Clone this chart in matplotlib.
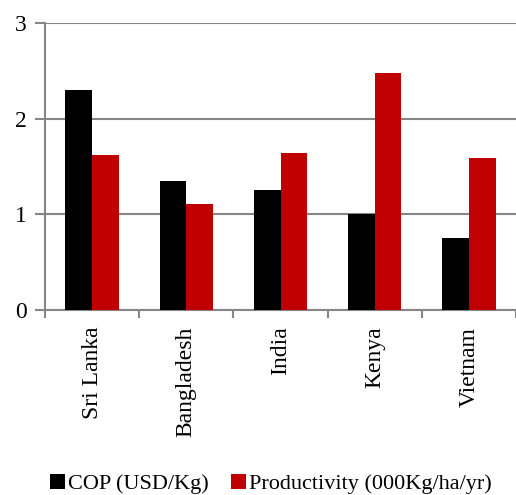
#!/usr/bin/env python3
"""Cost of production vs productivity by country - grouped bars."""
import matplotlib
matplotlib.use("Agg")
import matplotlib.pyplot as plt
import numpy as np

countries = ["Sri Lanka", "Bangladesh", "India", "Kenya", "Vietnam"]
cop = [2.30, 1.35, 1.25, 1.00, 0.75]
productivity = [1.62, 1.11, 1.64, 2.48, 1.59]
series_labels = ["COP (USD/Kg)", "Productivity (000Kg/ha/yr)"]
yticks = [0, 1, 2, 3]

plt.rcParams["font.family"] = ["Liberation Serif", "DejaVu Serif"]
grey = "#868686"

fig = plt.figure(figsize=(5.16, 4.95), dpi=100)
ax = fig.add_axes([45 / 516, 1 - 310 / 495, 471 / 516, 287 / 495])

x = np.arange(len(countries))
w = 0.283
ax.bar(x - w / 2, cop, w, color="black", label=series_labels[0], zorder=3)
ax.bar(x + w / 2, productivity, w, color="#c00000", label=series_labels[1], zorder=3)

ax.set_xlim(-0.5, len(countries) - 0.5)
ax.set_ylim(0, 3)
ax.set_yticks(yticks)
ax.set_yticklabels([str(t) for t in yticks], fontsize=17)
ax.yaxis.grid(True, color=grey, linewidth=1.5, zorder=0)
ax.tick_params(axis="y", length=7, width=1.5, color=grey, pad=6)

ax.set_xticks(x)
ax.set_xticklabels(countries, rotation=90, fontsize=17, va="top")
ax.set_xticks(np.arange(-0.5, len(countries) - 0.4, 1), minor=True)
ax.tick_params(axis="x", which="major", length=0, pad=12)
ax.tick_params(axis="x", which="minor", length=6, width=1.5, color=grey)

for side in ["top", "right"]:
    ax.spines[side].set_visible(False)
for side in ["left", "bottom"]:
    ax.spines[side].set_color(grey)
    ax.spines[side].set_linewidth(1.5)

fig.legend(loc="center", bbox_to_anchor=(271 / 516, 1 - 484 / 495), ncol=2,
           frameon=False, fontsize=16, handlelength=0.65, handleheight=0.65,
           handletextpad=0.15, columnspacing=1.0, borderpad=0)

fig.savefig("out.png", dpi=100)
